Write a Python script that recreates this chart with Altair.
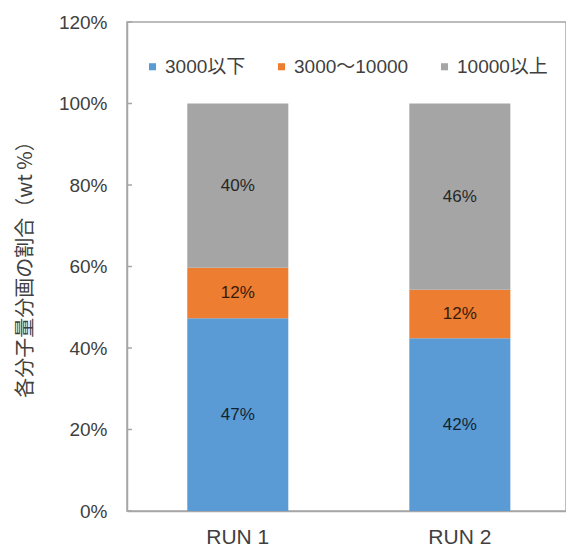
import altair as alt
import pandas as pd

# Share of each molecular-weight fraction (wt %) per run
runs = ["RUN 1", "RUN 2"]
fractions = ["3000以下", "3000〜10000", "10000以上"]
low_mw = [0.473, 0.424]
mid_mw = [0.124, 0.119]
high_mw = [0.403, 0.457]
y_ticks = [0.0, 0.2, 0.4, 0.6, 0.8, 1.0, 1.2]

colors = ["#5B9BD5", "#ED7D31", "#A5A5A5"]
font = "Liberation Sans, Arial, Noto Sans CJK JP"

rows = []
for i, run in enumerate(runs):
    for order, (frac, vals) in enumerate(zip(fractions, [low_mw, mid_mw, high_mw])):
        rows.append({"run": run, "fraction": frac, "share": vals[i], "order": order})
df = pd.DataFrame(rows)
ticks_df = pd.DataFrame({"v": y_ticks})

x_enc = alt.X(
    "run:N",
    sort=runs,
    title=None,
    scale=alt.Scale(paddingInner=0.545, paddingOuter=0.261, align=0.52),
    axis=alt.Axis(
        labelAngle=0,
        ticks=False,
        labelPadding=15,
        labelFontSize=21,
        labelColor="#404040",
        domainColor="#A6A6A6",
        domainWidth=1.5,
    ),
)

y_scale = alt.Scale(domain=[0, 1.2], nice=False)

bars = alt.Chart(df).mark_bar().encode(
    x=x_enc,
    y=alt.Y(
        "share:Q",
        stack="zero",
        scale=y_scale,
        title="各分子量分画の割合（wt %）",
        axis=alt.Axis(
            values=y_ticks,
            format=".0%",
            ticks=False,
            grid=False,
            labelPadding=20,
            labelFontSize=19,
            labelColor="#404040",
            domainColor="#A6A6A6",
            domainWidth=1.5,
            titleFont="Noto Sans CJK JP",
            titleFontSize=20,
            titleFontWeight="normal",
            titleColor="#404040",
            titleX=-92,
            titleY=242,
            titleAngle=-90,
            titleBaseline="bottom",
            titleAlign="center",
        ),
    ),
    color=alt.Color(
        "fraction:N",
        sort=fractions,
        scale=alt.Scale(domain=fractions, range=colors),
        legend=alt.Legend(
            title=None,
            orient="none",
            direction="horizontal",
            legendX=16,
            legendY=35,
            symbolType="square",
            symbolSize=50,
            symbolStrokeWidth=0,
            labelFontSize=19,
            labelFont=font,
            labelColor="#404040",
            labelOffset=3,
            columnPadding=26,
        ),
    ),
    order=alt.Order("order:Q"),
)

labels = alt.Chart(df).mark_text(
    fontSize=17, color="#000000", opacity=0.78, font=font
).encode(
    x=alt.X("run:N", sort=runs),
    y=alt.Y("share:Q", stack="zero", bandPosition=0.5, scale=y_scale),
    detail="fraction:N",
    text=alt.Text("share:Q", format=".0%"),
    order=alt.Order("order:Q"),
)

inner_ticks = alt.Chart(ticks_df).mark_rule(color="#A6A6A6", strokeWidth=1.5).encode(
    x=alt.value(0),
    x2=alt.value(5),
    y=alt.Y("v:Q", scale=y_scale),
)

chart = (
    alt.layer(bars, labels, inner_ticks)
    .properties(
        width=439,
        height=489,
        autosize=alt.AutoSizeParams(type="none"),
        padding={"left": 127, "top": 22, "right": 0, "bottom": 37},
        background="#FFFFFF",
    )
    .configure_view(stroke="#A6A6A6", strokeWidth=1.5)
    .configure_axis(labelFont=font)
)

chart.save("out.html", embed_options={"renderer": "svg", "actions": False})
